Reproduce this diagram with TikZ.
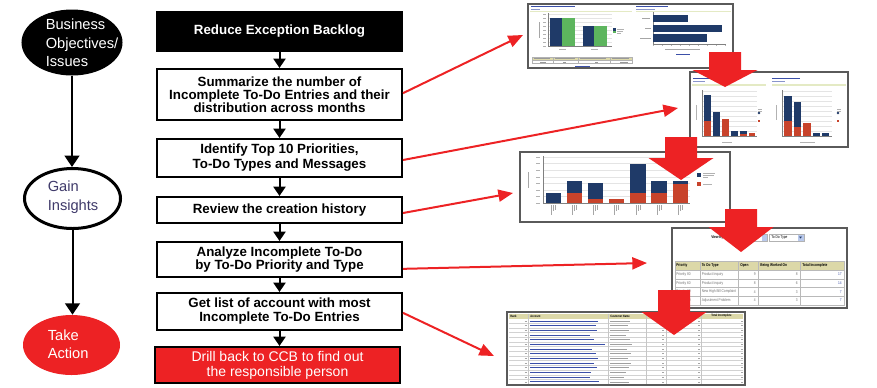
\documentclass[tikz,border=0pt]{standalone}
\usepackage{fontspec}
\setmainfont{Liberation Sans}
\newfontfamily\narrowfont[FakeStretch=0.8]{Liberation Sans}
\usetikzlibrary{shapes.geometric,arrows.meta,calc}
\definecolor{myred}{HTML}{ED2224}
\definecolor{navy}{HTML}{1F3A68}
\definecolor{cgreen}{HTML}{5DB55E}
\definecolor{corange}{HTML}{C8432B}
\definecolor{beige}{HTML}{DCD8A8}
\definecolor{framegray}{HTML}{5A5A5A}
\definecolor{linkblue}{HTML}{3B4FA8}
\definecolor{gainc}{HTML}{3F3A6A}
\definecolor{lightline}{HTML}{E4EAC4}
\definecolor{gridc}{HTML}{E4E4E4}
\definecolor{btnblue}{HTML}{B9C9EC}
\newcommand\bigdownarrow[4]{\fill[myred] ({#1-16},#2) -- ({#1+16},#2) -- ({#1+16},#3) -- ({#1+32.5},#3) -- (#1,#4) -- ({#1-32.5},#3) -- ({#1-16},#3) -- cycle;}
\begin{document}
\begin{tikzpicture}[x=0.75pt,y=-0.75pt,
 stepbox/.style={draw=black, line width=1.5pt, minimum width=183.75pt, inner sep=0pt, align=center, fill=white},
 flowarrow/.style={line width=1.5pt, -{Triangle[width=9pt,length=7pt]}},
 bigflow/.style={line width=1.5pt, -{Triangle[width=11pt,length=8.5pt]}},
 redarrow/.style={draw=myred, line width=1.5pt, -{Triangle[width=9pt,length=11pt]}},
 shot/.style={draw=framegray, line width=1.5pt, fill=white, inner sep=0pt},
 ovalbox/.style={ellipse, inner sep=0pt},
 ovaltext/.style={anchor=west, align=left, inner sep=0pt},
 stroke/.style={line width=0.45pt},
 tinytext/.style={inner sep=0pt, font={\narrowfont\fontsize{3}{3.5}\selectfont}},
 tinyhead/.style={inner sep=0pt, font={\narrowfont\bfseries\fontsize{3}{3.5}\selectfont}},
 microhead/.style={inner sep=0pt, font={\narrowfont\bfseries\fontsize{2.4}{3}\selectfont}},
]
\useasboundingbox (0,0) rectangle (877,387);

% ---------------- left column: ellipses ----------------
\node[ovalbox, fill=black, draw=black, line width=0.75pt, minimum width=75pt, minimum height=48.75pt] (e1) at (72,42.5) {};
\node[ovalbox, draw=black, line width=2.25pt, fill=white, minimum width=72pt, minimum height=45pt] (e2) at (72.5,198.5) {};
\node[ovalbox, fill=myred, minimum width=72.75pt, minimum height=45pt] (e3) at (71.5,345) {};
\node[ovaltext, text=white, font={\fontsize{11}{13.9}\selectfont}] (l1) at (45.5,43) {Business\\Objectives/\\Issues};
\node[ovaltext, text=gainc, font={\fontsize{11}{14.25}\selectfont}] (l2) at (47.5,197.5) {Gain\\Insights};
\node[ovaltext, text=white, font={\fontsize{11}{13.5}\selectfont}] (l3) at (47.5,344) {Take\\Action};
\draw[bigflow] (e1.south) -- (e1.south |- e2.north);
\draw[bigflow] (e2.south) -- (e2.south |- e3.north);

% ---------------- middle column: steps ----------------
\node[stepbox, fill=black, text=white, minimum height=29.25pt, font={\fontsize{10}{12}\selectfont\bfseries}] (b0) at (279.5,31.5) {Reduce Exception Backlog};
\node[stepbox, minimum height=38.25pt, font={\fontsize{10}{9.75}\selectfont\bfseries}] (b1) at (279.5,94.5) {Summarize the number of\\Incomplete To-Do Entries and their\\distribution across months};
\node[stepbox, minimum height=28.5pt, font={\fontsize{10}{11.25}\selectfont\bfseries}] (b2) at (279.5,158) {Identify Top 10 Priorities,\\To-Do Types and Messages};
\node[stepbox, minimum height=19.5pt, font={\fontsize{10}{11}\selectfont\bfseries}] (b3) at (279.5,210) {Review the creation history};
\node[stepbox, minimum height=26.25pt, font={\fontsize{10}{9.75}\selectfont\bfseries}] (b4) at (279.5,259.5) {Analyze Incomplete To-Do\\by To-Do Priority and Type};
\node[stepbox, minimum height=27.75pt, font={\fontsize{10}{10.5}\selectfont\bfseries}] (b5) at (279.5,311.5) {Get list of account with most\\Incomplete To-Do Entries};
\node[stepbox, fill=myred, text=white, minimum height=27pt, font={\fontsize{10.5}{11.25}\selectfont}] (b6) at (277.5,365) {Drill back to CCB to find out\\the responsible person};
\draw[flowarrow] (b0) -- (b1);
\draw[flowarrow] (b1) -- (b2);
\draw[flowarrow] (b2) -- (b3);
\draw[flowarrow] (b3) -- (b4);
\draw[flowarrow] (b4) -- (b5);
\draw[flowarrow] (b5.south) -- (b5.south |- b6.north);

% ---------------- screenshot 1 ----------------
\node[shot, minimum width=153.75pt, minimum height=48pt] (s1) at (630.5,36) {};
\draw[linkblue, stroke] (531,6.5) -- (575,6.5);
\draw[linkblue!60, line width=0.35pt] (531,9) -- (540,9);
\draw[lightline, line width=1.2pt] (530,11.5) -- (632,11.5);
\draw[linkblue, stroke] (636,6.5) -- (668,6.5);
\draw[linkblue!60, line width=0.35pt] (636,9) -- (655,9);
\draw[lightline, line width=1.2pt] (636,11.5) -- (731,11.5);
\foreach \yy in {14,18,...,46} {
  \draw[gridc, line width=0.3pt] (548,\yy) -- (612,\yy);
  \draw[gray!60, line width=0.35pt] (543,\yy) -- (546,\yy);
}
\draw[gray!70, line width=0.35pt] (539,22) -- (539,38);
\draw[gray, line width=0.4pt] (548,13) -- (548,46) -- (612,46);
\fill[navy] (550,18) rectangle (562,46);
\fill[cgreen] (562,18) rectangle (575,46);
\fill[navy] (583,26) rectangle (594,46);
\fill[cgreen] (594,26) rectangle (607,46);
\draw[gray!60, line width=0.35pt] (559,49) -- (566,49) (591,49) -- (598,49);
\fill[navy] (613,28) rectangle (615.5,30.5);
\fill[cgreen] (613,30.5) rectangle (615.5,33);
\draw[gray!60, line width=0.35pt] (617,29) -- (624,29) (617,31) -- (623,31) (617,33) -- (621,33);
\fill[beige] (532,57) rectangle (632,60);
\draw[gray!60, line width=0.3pt] (532,57) rectangle (632,63.5) (532,60) -- (632,60)
  (553,57) -- (553,63.5) (578,57) -- (578,63.5) (610,57) -- (610,63.5);
\draw[gray!80, line width=0.35pt] (534,58.5) -- (550,58.5) (555,58.5) -- (575,58.5) (580,58.5) -- (606,58.5) (612,58.5) -- (629,58.5)
  (540,62) -- (546,62) (563,62) -- (566,62) (595,62) -- (598,62) (620,62) -- (628,62);
\draw[linkblue, line width=0.35pt] (575,66) -- (590,66);
\foreach \xx in {653,662,...,725} \draw[gray!60, line width=0.3pt] (\xx,44) -- (\xx,46);
\draw[gray, line width=0.4pt] (653,12) -- (653,44) -- (726,44);
\fill[navy] (653,15) rectangle (688,22);
\fill[navy] (653,24.5) rectangle (722,32);
\fill[navy] (653,34) rectangle (707,41.5);
\draw[gray!70, line width=0.35pt] (642,18.5) -- (650,18.5) (645,28) -- (651,28) (640,38) -- (651,38)
  (665,49) -- (700,49);
\draw[linkblue, line width=0.35pt] (676,54) -- (690,54);

% ---------------- screenshot 2 ----------------
\node[shot, minimum width=118.5pt, minimum height=56.25pt] (s2) at (769,109.5) {};
\draw[linkblue, stroke] (693,78) -- (716,78);
\draw[linkblue!60, line width=0.35pt] (693,81.5) -- (705,81.5);
\draw[lightline, line width=1.2pt] (692,85) -- (766,85);
\draw[linkblue, stroke] (772,78) -- (800,78);
\draw[linkblue!60, line width=0.35pt] (772,81.5) -- (785,81.5);
\draw[lightline, line width=1.2pt] (772,85) -- (846,85);
\foreach \yy in {91,96,...,136} {
  \draw[gridc, line width=0.3pt] (702,\yy) -- (757,\yy);
  \draw[gridc, line width=0.3pt] (782,\yy) -- (832,\yy);
}
\draw[gray, line width=0.35pt] (702,90) -- (702,136) -- (757,136);
\draw[gray, line width=0.35pt] (782,90) -- (782,136) -- (832,136);
\draw[gray!60, line width=0.3pt] (696,105) -- (696,120) (776,105) -- (776,120) (722,142) -- (732,142) (800,142) -- (815,142);
\fill[navy] (704,95) rectangle (711,136);   \fill[corange] (704,121) rectangle (711,136);
\fill[navy] (713,112) rectangle (720,136);
\fill[corange] (722,119) rectangle (729,136);
\fill[navy] (731,131) rectangle (738,136);
\fill[navy] (740,131) rectangle (747,136);  \fill[corange] (740,133.5) rectangle (747,136);
\fill[corange] (749,133) rectangle (755,136);
\fill[navy] (759,113) circle (1.4);  \fill[corange] (757.8,120) rectangle (760.2,122.4);
\draw[gray!60, line width=0.3pt] (758,109) -- (762,109) (758,111) -- (762,111);
\fill[navy] (784,96) rectangle (792,136);   \fill[corange] (784,121) rectangle (792,136);
\fill[navy] (794,102) rectangle (801,136);  \fill[corange] (794,127) rectangle (801,136);
\fill[corange] (803,123) rectangle (811,136);
\fill[navy] (813,133) rectangle (820,136);
\fill[navy] (822,133) rectangle (829,136);
\fill[navy] (838,113) circle (1.4);  \fill[corange] (836.8,120) rectangle (839.2,122.4);
\draw[gray!60, line width=0.3pt] (837,109) -- (841,109) (837,111) -- (841,111);

% ---------------- screenshot 3 ----------------
\node[shot, minimum width=157.5pt, minimum height=52.5pt] (s3) at (625,187) {};
\foreach \yy in {157,163.57,...,203} {
  \draw[gridc, line width=0.3pt] (543,\yy) -- (690,\yy);
  \draw[gray!60, line width=0.3pt] (536,\yy) -- (540,\yy);
}
\draw[gray!70, line width=0.35pt] (528,172) -- (528,188);
\draw[gray, line width=0.35pt] (543,156) -- (543,203) -- (690,203);
\fill[navy] (546,193) rectangle (561,203);
\fill[navy] (567,181) rectangle (582,203);  \fill[corange] (567,193) rectangle (582,203);
\fill[navy] (588,183) rectangle (603,203);  \fill[corange] (588,199) rectangle (603,203);
\fill[corange] (609,199) rectangle (624,203);
\fill[navy] (630,164) rectangle (646,203);  \fill[corange] (630,193) rectangle (646,203);
\fill[navy] (651,181) rectangle (667,203);  \fill[corange] (651,193) rectangle (667,203);
\fill[navy] (673,181) rectangle (688,203);  \fill[corange] (673,184) rectangle (688,203);
\foreach \xx in {553.5,574.5,595.5,616.5,638,659,680.5} {
  \draw[gray!70, line width=0.3pt] (\xx-2,205) -- (\xx-2,215) (\xx,205) -- (\xx,211) (\xx+2,205) -- (\xx+2,210);
}
\fill[navy] (697,173) rectangle (701,177);
\fill[corange] (697,182) rectangle (701,186);
\draw[gray!60, line width=0.3pt] (703,173.5) -- (715,173.5) (703,175.5) -- (714,175.5) (703,177.5) -- (708,177.5) (703,184) -- (712,184);

% ---------------- screenshot 4 ----------------
\node[shot, minimum width=131.25pt, minimum height=60pt] (s4) at (759.5,268) {};
\node[tinyhead, anchor=west] (vb) at (711,237.5) {View By};
\draw[gray!60, line width=0.3pt, fill=white] (730,234) rectangle (767,241);
\fill[btnblue] (761.5,234.5) rectangle (766.5,240.5);
\draw[gray!60, line width=0.3pt, fill=white] (769,234) rectangle (804,241);
\node[tinytext, anchor=west] (dd) at (771,237.5) {To Do Type};
\fill[btnblue] (797.5,234.5) rectangle (803.5,240.5);
\fill[navy] (799,236.5) -- (802,236.5) -- (800.5,238.5) -- cycle;
\fill[beige] (675,261) rectangle (844,270);
\draw[gray!55, line width=0.3pt] (675,261) rectangle (844,305);
\foreach \yy in {270,278.75,287.5,296.25} \draw[gray!55, line width=0.3pt] (675,\yy) -- (844,\yy);
\foreach \xx in {700,738,758,800} \draw[gray!55, line width=0.3pt] (\xx,261) -- (\xx,305);
\node[tinyhead, anchor=west] (h1) at (676,265.5) {Priority};
\node[tinyhead, anchor=west] (h2) at (701.5,265.5) {To Do Type};
\node[tinyhead, anchor=west] (h3) at (740,265.5) {Open};
\node[tinyhead, anchor=west] (h4) at (760,265.5) {Being Worked On};
\node[tinyhead, anchor=west] (h5) at (802,265.5) {Total Incomplete};
\foreach \yy/\pr/\ty/\op/\bw/\tot in {274.4/Priority 80/Product Inquiry/9/8/17,
    283.1/Priority 60/Product Inquiry/8/6/14,
    291.9/Priority 60/New High Bill Complaint/4/3/7,
    300.6/Priority 60/Adjustment Problem/4/3/7} {
  \node[tinytext, text=gray!90!black, anchor=west] at (676,\yy) {\pr};
  \node[tinytext, text=gray!90!black, anchor=west] at (701.5,\yy) {\ty};
  \node[tinytext, text=gray!90!black, anchor=east] at (756,\yy) {\op};
  \node[tinytext, text=gray!90!black, anchor=east] at (798,\yy) {\bw};
  \node[tinytext, text=linkblue, anchor=east] at (842,\yy) {\tot};
}

% ---------------- screenshot 5 ----------------
\node[shot, minimum width=178.5pt, minimum height=54.75pt] (s5) at (626,348.5) {};
\fill[beige] (509,313.5) rectangle (743,318.5);
\foreach \k in {1,...,13} \draw[gray!35, line width=0.2pt] (509,{318.5+\k*4.68}) -- (743,{318.5+\k*4.68});
\foreach \xx in {528,608,646,666,701} \draw[gray!45, line width=0.25pt] (\xx,313.5) -- (\xx,384);
\node[microhead, anchor=west] (r1) at (510,316) {Rank};
\node[microhead, anchor=west] (r2) at (530,316) {Account};
\node[microhead, anchor=west] (r3) at (610,316) {Customer Name};
\node[microhead, anchor=west] (r4) at (711,316) {Total Incomplete};
\foreach \r/\a/\c in {0/598/630,1/596/628,2/597/629,3/590/626,4/594/630,5/605/632,6/592/627,7/596/631,8/598/628,9/594/631,10/597/629,11/591/626,12/590/624,13/599/629} {
  \pgfmathsetmacro\yy{320.9+\r*4.68}
  \draw[gray!70, line width=0.35pt] (524.5,\yy) -- (526.5,\yy);
  \draw[linkblue, line width=0.4pt] (530,\yy) -- (\a,\yy);
  \draw[gray!75, line width=0.35pt] (610,\yy) -- (\c,\yy);
  \draw[gray!70, line width=0.35pt] (662,\yy) -- (664,\yy) (698,\yy) -- (700,\yy) (741,\yy) -- (743,\yy);
}

% ---------------- thin red arrows ----------------
\coordinate (p1) at (523,35);
\coordinate (p2) at (678,108);
\coordinate (p3) at (513,193);
\coordinate (p4) at (647,263);
\coordinate (p5) at (494,356);
\draw[redarrow] ([yshift=1pt]b1.east) -- (p1);
\draw[redarrow] ([yshift=-1.5pt]b2.east) -- (p2);
\draw[redarrow] ([yshift=-2.25pt]b3.east) -- (p3);
\draw[redarrow] ([yshift=-7pt]b4.east) -- (p4);
\draw[redarrow] ([yshift=-1pt]b5.east) -- (p5);

% ---------------- big red block arrows ----------------
\bigdownarrow{725}{52}{70}{87}
\bigdownarrow{681}{137}{158}{180}
\bigdownarrow{741}{209}{227}{252}
\bigdownarrow{674}{290}{312}{335}
\end{tikzpicture}
\end{document}
